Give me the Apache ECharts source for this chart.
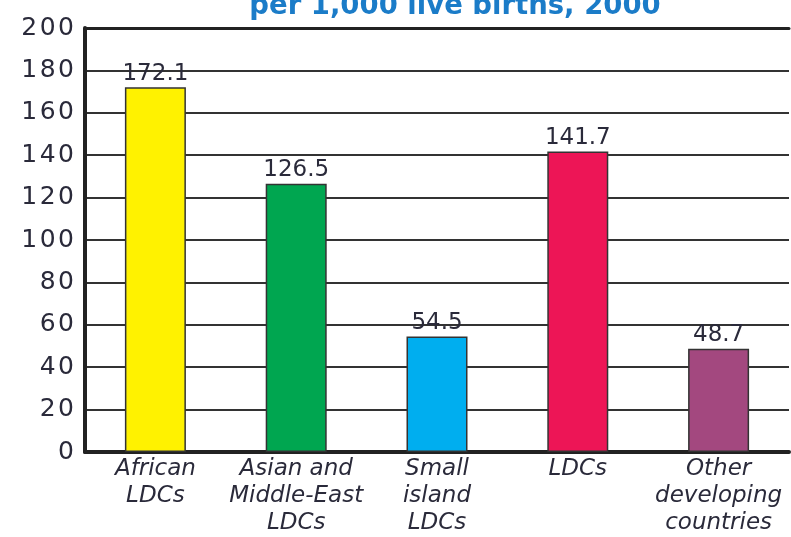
<!DOCTYPE html>
<html>
<head>
<meta charset="utf-8">
<script src="https://cdn.jsdelivr.net/npm/echarts@6/dist/echarts.min.js"></script>
<style>
  html, body { margin: 0; padding: 0; background: #fff; }
  #chart { width: 791px; height: 537px; }
</style>
</head>
<body>
<div id="chart"></div>
<script>
// Under-5 mortality, per 1,000 live births, 2000
const categories = [
  'African\nLDCs',
  'Asian and\nMiddle-East\nLDCs',
  'Small\nisland\nLDCs',
  'LDCs',
  'Other\ndeveloping\ncountries'
];
const values = [172.1, 126.5, 54.5, 141.7, 48.7];
const barColors = ['#FFF200', '#00A650', '#00AEEF', '#ED1556', '#A3487F'];
const yTicks = { min: 0, max: 200, interval: 20 };
const titleText = 'per 1,000 live births, 2000';

// slightly widen tick numerals with hair spaces between digits
const spaced = s => String(s).split('').join('\u200A');

const chart = echarts.init(document.getElementById('chart'), null, { renderer: 'canvas' });

chart.setOption({
  animation: false,
  backgroundColor: '#ffffff',
  title: {
    text: titleText,
    left: 450,
    textAlign: 'center',
    top: -12,
    textStyle: {
      fontFamily: 'DejaVu Sans',
      fontWeight: 'bold',
      fontSize: 27.5,
      color: '#1B7CC8'
    }
  },
  grid: { left: 85, right: 2, top: 28, bottom: 85, containLabel: false, outerBoundsMode: 'none' },
  xAxis: [
    {
      type: 'category',
      data: categories,
      axisLine: { show: true, lineStyle: { color: '#222', width: 4 } },
      axisTick: { show: false },
      axisLabel: {
        interval: 0,
        margin: 4,
        fontFamily: 'DejaVu Sans',
        fontStyle: 'italic',
        fontSize: 23,
        lineHeight: 27,
        color: '#2a2a3a',
        verticalAlign: 'top'
      }
    },
    {
      type: 'category',
      position: 'top',
      data: categories,
      axisLine: { show: true, lineStyle: { color: '#222', width: 3 } },
      axisTick: { show: false },
      axisLabel: { show: false }
    }
  ],
  yAxis: {
    type: 'value',
    min: yTicks.min,
    max: yTicks.max,
    interval: yTicks.interval,
    axisLine: { show: true, lineStyle: { color: '#222', width: 4 } },
    axisTick: { show: false },
    axisLabel: {
      margin: 11,
      fontFamily: 'DejaVu Sans',
      fontSize: 25,
      color: '#2a2a3a',
      formatter: v => spaced(v)
    },
    splitLine: { show: true, lineStyle: { color: '#333', width: 2 } }
  },
  series: [{
    type: 'bar',
    xAxisIndex: 0,
    barWidth: 61,
    data: values.map((v, i) => ({
      value: v,
      itemStyle: { color: barColors[i], borderColor: '#333', borderWidth: 1.5 }
    })),
    label: {
      show: true,
      position: 'top',
      distance: 2,
      fontFamily: 'DejaVu Sans',
      fontSize: 23,
      color: '#2a2a3a',
      formatter: p => p.value.toFixed(1)
    }
  }]
});
</script>
</body>
</html>
